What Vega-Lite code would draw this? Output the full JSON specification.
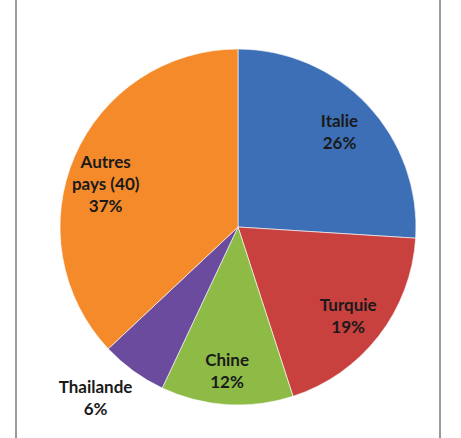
{
  "$schema": "https://vega.github.io/schema/vega-lite/v6.json",
  "width": 424,
  "height": 446,
  "autosize": "none",
  "padding": {"left": 16, "top": -4, "right": 21, "bottom": -4},
  "background": "white",
  "data": {
    "values": [
      {"pays": "Italie", "label": "Italie", "pct": 26, "rank": 1},
      {"pays": "Turquie", "label": "Turquie", "pct": 19, "rank": 2},
      {"pays": "Chine", "label": "Chine", "pct": 12, "rank": 3},
      {"pays": "Thailande", "label": "Thailande", "pct": 6, "rank": 4},
      {"pays": "Autres pays (40)", "label": "Autres|pays (40)", "pct": 37, "rank": 5}
    ]
  },
  "transform": [
    {"calculate": "split(datum.label + '|' + datum.pct + '%', '|')", "as": "txt"}
  ],
  "layer": [
    {
      "mark": {"type": "rect", "fill": null, "stroke": "#9a9a9a", "strokeWidth": 1.5},
      "encoding": {}
    },
    {
      "mark": {"type": "arc", "outerRadius": 178, "xOffset": 10, "yOffset": 8, "stroke": "#ffffff", "strokeWidth": 1, "strokeOpacity": 0.6},
      "encoding": {
        "theta": {"field": "pct", "type": "quantitative", "stack": true},
        "order": {"field": "rank", "type": "ordinal"},
        "color": {
          "field": "pays",
          "type": "nominal",
          "scale": {
            "domain": ["Italie", "Turquie", "Chine", "Thailande", "Autres pays (40)"],
            "range": ["#3C6FB6", "#C9413F", "#8DBB46", "#6A4B9D", "#F58A2B"]
          },
          "legend": null
        }
      }
    },
    {
      "mark": {"type": "text", "radius": 142, "xOffset": 8, "yOffset": 0, "font": "Lato", "fontWeight": "bold", "fontSize": 17, "lineHeight": 22, "color": "#1a1a1a", "baseline": "middle", "align": "center"},
      "encoding": {
        "theta": {"field": "pct", "type": "quantitative", "stack": true},
        "order": {"field": "rank", "type": "ordinal"},
        "text": {"condition": {"test": "datum.pays == 'Thailande'", "value": ""}, "field": "txt"}
      }
    },
    {
      "mark": {"type": "text", "radius": 210, "xOffset": -9, "yOffset": -1, "font": "Lato", "fontWeight": "bold", "fontSize": 17, "lineHeight": 22, "color": "#1a1a1a", "baseline": "middle", "align": "center"},
      "encoding": {
        "theta": {"field": "pct", "type": "quantitative", "stack": true},
        "order": {"field": "rank", "type": "ordinal"},
        "text": {"condition": {"test": "datum.pays != 'Thailande'", "value": ""}, "field": "txt"}
      }
    }
  ]
}
